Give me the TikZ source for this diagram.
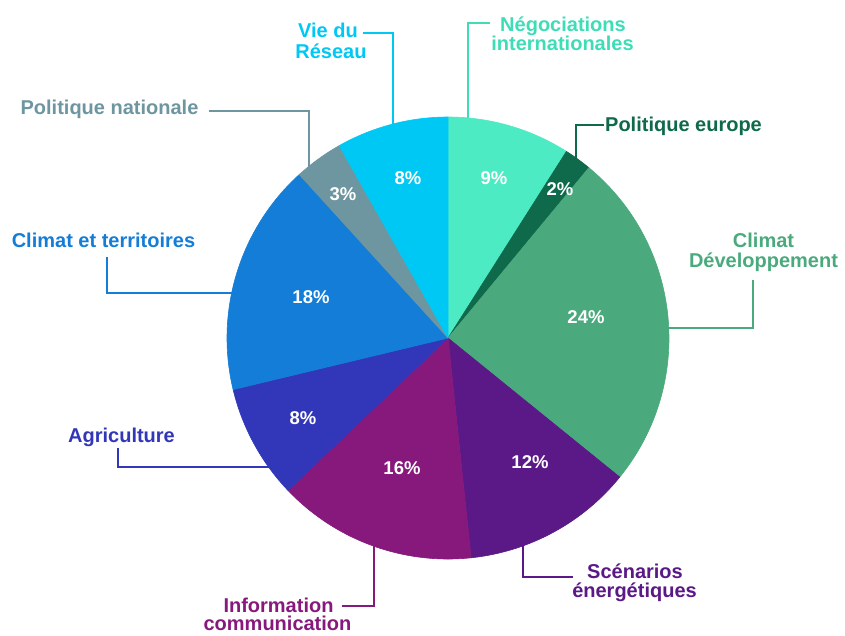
\documentclass[tikz,border=0pt]{standalone}
\usepackage{fontspec}
\setmainfont{Liberation Sans}
\usetikzlibrary{calc}
\definecolor{cNeg}{HTML}{4DEBC4}
\definecolor{cNegT}{HTML}{3EDDB8}
\definecolor{cPeu}{HTML}{0F694B}
\definecolor{cCd}{HTML}{4BAA7D}
\definecolor{cSc}{HTML}{5A1987}
\definecolor{cInf}{HTML}{87197D}
\definecolor{cAg}{HTML}{3237B9}
\definecolor{cCt}{HTML}{147DD7}
\definecolor{cPn}{HTML}{6E96A0}
\definecolor{cVie}{HTML}{00C8F5}
\newcommand\pieslice[3]{\filldraw[#3, line width=0.6pt, line join=round] (C) -- ++(#1:221pt) arc[start angle=#1, end angle=#2, radius=221pt] -- cycle;}
\begin{document}
\begin{tikzpicture}[x=1pt, y=-1pt,
  lbl/.style={font=\fontsize{20}{22}\selectfont\bfseries, inner sep=0pt, text height=14pt, text depth=0pt},
  pct/.style={font=\fontsize{18.5}{20}\selectfont\bfseries, text=white, inner sep=0pt, text height=13pt, text depth=0pt},
  lead/.style={line width=2.6pt}]
\useasboundingbox[fill=white] (0,0) rectangle (845,635);
\coordinate (C) at (448,338);

% labels
\node[lbl, text=cVie] (vie1) at (328,30) {Vie du};
\node[lbl, text=cVie] (vie2) at (331,51.5) {Réseau};
\node[lbl, text=cNegT] (neg1) at (563,24) {Négociations};
\node[lbl, text=cNegT] (neg2) at (562.5,43) {internationales};
\node[lbl, text=cPeu] (peu) at (683.5,124.5) {Politique europe};
\node[lbl, text=cCd] (cd1) at (763.5,240) {Climat};
\node[lbl, text=cCd] (cd2) at (763.5,260) {Développement};
\node[lbl, text=cSc] (sc1) at (635,571) {Scénarios};
\node[lbl, text=cSc] (sc2) at (634.5,590) {énergétiques};
\node[lbl, text=cInf] (inf1) at (278.5,605) {Information};
\node[lbl, text=cInf] (inf2) at (277.5,623.5) {communication};
\node[lbl, text=cAg] (ag) at (121.5,435) {Agriculture};
\node[lbl, text=cCt] (ct) at (103.5,240) {Climat et territoires};
\node[lbl, text=cPn] (pn) at (109.5,107.5) {Politique nationale};

% leader elbows and pie ends
\coordinate (vieK) at (393,33);  \coordinate (vieP) at (393,130);
\coordinate (negK) at (468,23);  \coordinate (negP) at (468,125);
\coordinate (peuK) at (576,125); \coordinate (peuP) at (576,165);
\coordinate (cdK) at (753,328);  \coordinate (cdP) at (660,328);
\coordinate (scK) at (523,577);  \coordinate (scP) at (523,540);
\coordinate (infK) at (374,606); \coordinate (infP) at (374,540);
\coordinate (agK) at (118,467);  \coordinate (agP) at (276,467);
\coordinate (ctK) at (107,293);  \coordinate (ctP) at (240,293);
\coordinate (pnK) at (309,111);  \coordinate (pnP) at (309,173);

\draw[lead, cVie] ($(vie1.east |- vieK)+(5,0)$) -- (vieK) -- (vieP);
\draw[lead, cNegT] ($(neg1.west |- negK)+(-10,0)$) -- (negK) -- (negP);
\draw[lead, cPeu] ($(peu.west |- peuK)+(-1,0)$) -- (peuK) -- (peuP);
\draw[lead, cCd] ($(cd2.south -| cdK)+(0,13)$) -- (cdK) -- (cdP);
\draw[lead, cSc] ($(sc1.west |- scK)+(-14,0)$) -- (scK) -- (scP);
\draw[lead, cInf] ($(inf1.east |- infK)+(8,0)$) -- (infK) -- (infP);
\draw[lead, cAg] ($(ag.south -| agK)+(0,6)$) -- (agK) -- (agP);
\draw[lead, cCt] ($(ct.south -| ctK)+(0,10)$) -- (ctK) -- (ctP);
\draw[lead, cPn] ($(pn.east |- pnK)+(10,0)$) -- (pnK) -- (pnP);

% pie
\pieslice{90}{57.6}{cNeg}
\pieslice{57.6}{50.4}{cPeu}
\pieslice{50.4}{-39}{cCd}
\pieslice{-39}{-84}{cSc}
\pieslice{-84}{-136.4}{cInf}
\pieslice{-136.4}{-166.5}{cAg}
\pieslice{-166.5}{-227.7}{cCt}
\pieslice{-227.7}{-240.5}{cPn}
\pieslice{-240.5}{-270}{cVie}

% percentages
\node[pct] (pNeg) at (494,178) {9\%};
\node[pct] (pPeu) at (560,189) {2\%};
\node[pct] (pCd) at (586,317) {24\%};
\node[pct] (pSc) at (530,462) {12\%};
\node[pct] (pInf) at (402,468) {16\%};
\node[pct] (pAg) at (303,418) {8\%};
\node[pct] (pCt) at (311,297) {18\%};
\node[pct] (pPn) at (343,194) {3\%};
\node[pct] (pVie) at (408,178) {8\%};
\end{tikzpicture}
\end{document}
